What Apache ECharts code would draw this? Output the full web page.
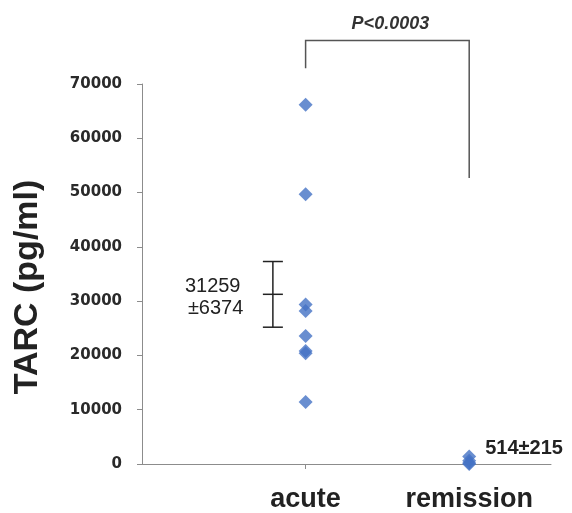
<!DOCTYPE html>
<html>
<head>
<meta charset="utf-8">
<script src="https://cdn.jsdelivr.net/npm/echarts@6/dist/echarts.min.js"></script>
<style>
html,body{margin:0;padding:0;background:#fff;}
#chart{width:572px;height:513px;}
</style>
</head>
<body>
<div id="chart"></div>
<script>
// ---- data ----
const categories = ['acute', 'remission'];
const categoryX = [1, 2];
const acuteValues = [66200, 49700, 29400, 28200, 23600, 20800, 20400, 11400];
const remissionValues = [1400, 600, 200, 0];
const acuteMean = 31259, acuteSDLow = 25200, acuteSDHigh = 37300;
const acuteLabel = ['31259', '\u00b16374'];
const remissionMean = 514;
const remissionLabel = '514\u00b1215';
const errorBarX = 0.8;
const pText = 'P<0.0003';
const bracketTop = 78000, bracketLeftEnd = 72900, bracketRightEnd = 52700;
const yTicks = { min: 0, max: 70000, interval: 10000 };
const yTitle = 'TARC (pg/ml)';

const chart = echarts.init(document.getElementById('chart'));
const blue = '#4472C4';
const option = {
  animation: false,
  backgroundColor: '#fff',
  grid: { left: 142, right: 21, top: 84, bottom: 46, containLabel: false },
  xAxis: {
    type: 'value', min: 0, max: 2.5, interval: 1,
    axisLine: { lineStyle: { color: '#8c8c8c', width: 1 } },
    axisTick: { show: true, length: 5, customValues: [1, 2], lineStyle: { color: '#8c8c8c' } },
    splitLine: { show: false },
    axisLabel: {
      customValues: categoryX,
      margin: 22,
      fontFamily: 'Liberation Sans, Arial, sans-serif',
      fontWeight: 'bold', fontSize: 27, color: '#222',
      formatter: v => { const i = categoryX.indexOf(v); return i >= 0 ? categories[i] : ''; }
    }
  },
  yAxis: {
    type: 'value', min: yTicks.min, max: yTicks.max, interval: yTicks.interval,
    axisLine: { show: true, lineStyle: { color: '#8c8c8c', width: 1 } },
    axisTick: { show: true, length: 5, lineStyle: { color: '#8c8c8c' } },
    splitLine: { show: false },
    axisLabel: {
      margin: 20,
      fontFamily: 'DejaVu Sans, sans-serif',
      fontWeight: 'bold', fontSize: 15, color: '#2a2a2a',
      formatter: v => String(v)
    }
  },
  graphic: [{
    type: 'text', x: 28, y: 287, rotation: Math.PI / 2,
    style: {
      text: yTitle, align: 'center', verticalAlign: 'middle',
      font: 'bold 34px "Liberation Sans", Arial, sans-serif', fill: '#222'
    }
  }],
  series: [
    {
      type: 'scatter', symbol: 'diamond', symbolSize: 14,
      itemStyle: { color: blue },
      data: acuteValues.map(v => [categoryX[0], v]), z: 3
    },
    {
      type: 'scatter', symbol: 'diamond', symbolSize: 14,
      itemStyle: { color: blue },
      data: remissionValues.map(v => [categoryX[1], v]), z: 3
    },
    {
      // mean ± SD error bar for acute
      type: 'custom', clip: false, z: 4,
      data: [[errorBarX, acuteMean, acuteSDLow, acuteSDHigh]],
      renderItem: (params, api) => {
        const m = api.coord([api.value(0), api.value(1)]);
        const lo = api.coord([api.value(0), api.value(2)]);
        const hi = api.coord([api.value(0), api.value(3)]);
        const hw = 10;
        const ls = { stroke: '#222', lineWidth: 1.5 };
        return {
          type: 'group', children: [
            { type: 'line', shape: { x1: lo[0], y1: lo[1], x2: hi[0], y2: hi[1] }, style: ls },
            { type: 'line', shape: { x1: lo[0] - hw, y1: lo[1], x2: lo[0] + hw, y2: lo[1] }, style: ls },
            { type: 'line', shape: { x1: hi[0] - hw, y1: hi[1], x2: hi[0] + hw, y2: hi[1] }, style: ls },
            { type: 'line', shape: { x1: m[0] - hw, y1: m[1], x2: m[0] + hw, y2: m[1] }, style: ls },
            { type: 'text', x: m[0] - 88, y: m[1] - 8, style: { text: acuteLabel[0], align: 'left', verticalAlign: 'middle', font: '20px "Liberation Sans", Arial, sans-serif', fill: '#222' } },
            { type: 'text', x: m[0] - 85, y: m[1] + 14, style: { text: acuteLabel[1], align: 'left', verticalAlign: 'middle', font: '20px "Liberation Sans", Arial, sans-serif', fill: '#222' } }
          ]
        };
      }
    },
    {
      // remission label
      type: 'custom', clip: false, z: 4,
      data: [[categoryX[1], remissionMean]],
      renderItem: (params, api) => {
        const p = api.coord([api.value(0), api.value(1)]);
        return {
          type: 'text', x: p[0] + 16, y: p[1] - 13,
          style: { text: remissionLabel, align: 'left', verticalAlign: 'middle', font: 'bold 20px "Liberation Sans", Arial, sans-serif', fill: '#222' }
        };
      }
    },
    {
      // significance bracket
      type: 'custom', clip: false, z: 4,
      data: [[categoryX[0], categoryX[1], bracketTop, bracketLeftEnd, bracketRightEnd]],
      renderItem: (params, api) => {
        const a = api.coord([api.value(0), api.value(3)]);
        const b = api.coord([api.value(0), api.value(2)]);
        const c = api.coord([api.value(1), api.value(2)]);
        const d = api.coord([api.value(1), api.value(4)]);
        return {
          type: 'group', children: [
            { type: 'polyline', shape: { points: [a, b, c, d] }, style: { stroke: '#555', lineWidth: 1.5, fill: null } },
            { type: 'text', x: (b[0] + c[0]) / 2 + 3, y: b[1] - 17, style: { text: pText, align: 'center', verticalAlign: 'middle', font: 'italic bold 18px "Liberation Sans", Arial, sans-serif', fill: '#333' } }
          ]
        };
      }
    }
  ]
};
chart.setOption(option);
</script>
</body>
</html>
